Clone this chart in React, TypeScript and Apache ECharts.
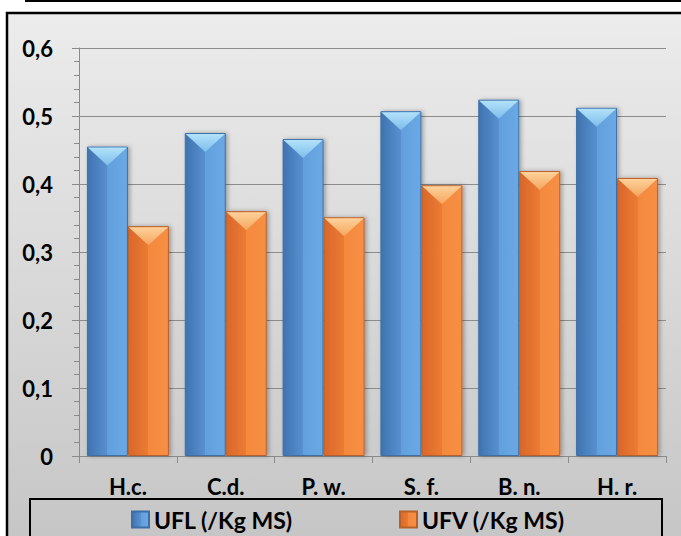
import React, { useEffect, useRef } from "react";
import * as echarts from "echarts";

const categories = ["H.c.", "C.d.", "P. w.", "S. f.", "B. n.", "H. r."];
const uflValues = [0.455, 0.475, 0.466, 0.507, 0.524, 0.512];
const ufvValues = [0.338, 0.36, 0.351, 0.398, 0.419, 0.409];
const seriesNames = ["UFL (/Kg MS)", "UFV (/Kg MS)"];
const yTicks = [0, 0.1, 0.2, 0.3, 0.4, 0.5, 0.6];

const FONT = "Lato, 'Open Sans', sans-serif";

function hGrad(stops: [number, string][]) {
  return new echarts.graphic.LinearGradient(
    0, 0, 1, 0,
    stops.map(([offset, color]) => ({ offset, color }))
  );
}
function vGrad(stops: [number, string][]) {
  return new echarts.graphic.LinearGradient(
    0, 0, 0, 1,
    stops.map(([offset, color]) => ({ offset, color }))
  );
}

export default function App() {
  const ref = useRef<HTMLDivElement>(null);
  useEffect(() => {
    if (!ref.current) return;
    const chart = echarts.init(ref.current, null, { renderer: "svg" });
    const blueBody = hGrad([
      [0, "#3f73b0"],
      [0.5, "#5890cf"],
      [0.5, "#62a0dd"],
      [1, "#6aa9e4"],
    ]);
    const orangeBody = hGrad([
      [0, "#d9672a"],
      [0.5, "#ec7b33"],
      [0.5, "#f4893d"],
      [1, "#f68f45"],
    ]);
    const blueTop = vGrad([
      [0, "#b3e2fa"],
      [1, "#7dbdeb"],
    ]);
    const orangeTop = vGrad([
      [0, "#fdd29a"],
      [1, "#f6a55e"],
    ]);
    const tri = "path://M0,0L20,0L10,10Z";
    const legendText = { fontFamily: FONT, fontWeight: "bold", fontSize: 23, color: "#000" };
    const axisText = { fontFamily: FONT, fontWeight: "bold", fontSize: 22, color: "#000" };
    chart.setOption({
      animation: false,
      backgroundColor: "#ffffff",
      graphic: [
        {
          type: "rect",
          z: -100,
          shape: { x: 7, y: 13, width: 1000, height: 1000 },
          style: {
            fill: new echarts.graphic.LinearGradient(0, 0, 0, 1, [
              { offset: 0, color: "#ececec" },
              { offset: 0.523, color: "#c6c6c6" },
              { offset: 1, color: "#c6c6c6" },
            ]),
            stroke: "#000",
            lineWidth: 2.5,
          },
        },
        {
          type: "line",
          z: 100,
          shape: { x1: 25, y1: 1, x2: 681, y2: 1 },
          style: { stroke: "#000", lineWidth: 2 },
        },
        {
          type: "rect",
          z: 100,
          shape: { x: 30, y: 499, width: 632, height: 60 },
          style: { fill: "none", stroke: "#000", lineWidth: 2 },
        },
      ],
      grid: { left: 79, right: 15, top: 48, bottom: 80 },
      legend: [
        {
          left: 131,
          top: 508,
          padding: 0,
          data: [seriesNames[0]],
          icon: "rect",
          itemWidth: 17,
          itemHeight: 16,
          itemGap: 6,
          textStyle: legendText,
        },
        {
          left: 399,
          top: 508,
          padding: 0,
          data: [seriesNames[1]],
          icon: "rect",
          itemWidth: 17,
          itemHeight: 16,
          itemGap: 6,
          textStyle: legendText,
        },
      ],
      xAxis: {
        type: "category",
        data: categories,
        axisLine: { show: true, lineStyle: { color: "#8a8a8a", width: 1 } },
        axisTick: { show: true, length: 7, alignWithLabel: false, lineStyle: { color: "#8a8a8a" } },
        axisLabel: { margin: 19, interval: 0, ...axisText },
      },
      yAxis: {
        type: "value",
        min: yTicks[0],
        max: yTicks[yTicks.length - 1],
        interval: 0.1,
        axisLine: { show: true, lineStyle: { color: "#8a8a8a", width: 1 } },
        axisTick: { show: true, length: 7, lineStyle: { color: "#8a8a8a" } },
        minorTick: { show: true, splitNumber: 5, length: 5, lineStyle: { color: "#8a8a8a" } },
        splitLine: { show: true, lineStyle: { color: "#8c8c8c", width: 1 } },
        axisLabel: {
          margin: 26,
          ...axisText,
          formatter: (v: number) => (v === 0 ? "0" : v.toFixed(1).replace(".", ",")),
        },
      },
      series: [
        {
          name: seriesNames[0],
          type: "bar",
          data: uflValues,
          barWidth: 41,
          barGap: "0%",
          color: "#5b9bd5",
          itemStyle: {
            color: blueBody,
            borderColor: "#3d6fa6",
            borderWidth: 1,
            shadowColor: "rgba(0,0,0,0.3)",
            shadowBlur: 4,
            shadowOffsetX: 2,
          },
          z: 2,
        },
        {
          name: seriesNames[1],
          type: "bar",
          data: ufvValues,
          barWidth: 41,
          barGap: "0%",
          color: "#ed7d31",
          itemStyle: {
            color: orangeBody,
            borderColor: "#b8602a",
            borderWidth: 1,
            shadowColor: "rgba(0,0,0,0.3)",
            shadowBlur: 4,
            shadowOffsetX: 2,
          },
          z: 2,
        },
        {
          name: "ufl-top",
          type: "pictorialBar",
          data: uflValues,
          barWidth: 41,
          barGap: "0%",
          symbol: tri,
          symbolSize: [39, 18],
          symbolPosition: "end",
          symbolOffset: [0, 1],
          itemStyle: { color: blueTop },
          z: 5,
          silent: true,
        },
        {
          name: "ufv-top",
          type: "pictorialBar",
          data: ufvValues,
          barWidth: 41,
          barGap: "0%",
          symbol: tri,
          symbolSize: [39, 18],
          symbolPosition: "end",
          symbolOffset: [0, 1],
          itemStyle: { color: orangeTop },
          z: 5,
          silent: true,
        },
      ],
    });
    return () => chart.dispose();
  }, []);
  return (
    <div
      ref={ref}
      style={{ position: "fixed", left: 0, top: 0, width: 681, height: 536 }}
    />
  );
}
